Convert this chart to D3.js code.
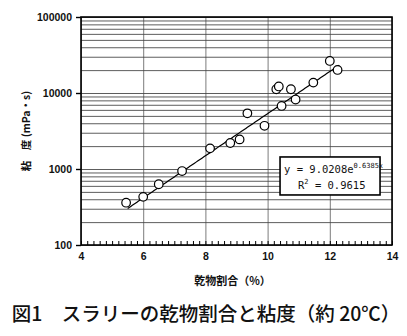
<!DOCTYPE html>
<html>
<head>
<meta charset="utf-8">
<script src="https://cdn.jsdelivr.net/npm/d3@7"></script>
<style>
  body { margin: 0; background: #fff; }
  svg { display: block; }
</style>
</head>
<body>
<div id="chart"></div>
<script>
// データ
const dryRatio = [5.45, 6.0, 6.5, 7.25, 8.15, 8.8, 9.1, 9.35, 9.9, 10.28, 10.36, 10.45, 10.75, 10.9, 11.47, 12.0, 12.25];
const viscosity = [360, 430, 630, 940, 1870, 2200, 2450, 5400, 3700, 11200, 12200, 6750, 11200, 8200, 13700, 26400, 20100];
const xTicks = [4, 6, 8, 10, 12, 14];
const yTicks = [100, 1000, 10000, 100000];
const fitRange = [5.5, 12.3];
const fitA = 9.0208, fitB = 0.6385;

const W = 407, H = 336;
const margin = { top: 17, right: 15, bottom: 91, left: 81 };
const w = W - margin.left - margin.right;
const h = H - margin.top - margin.bottom;

const root = d3.select("#chart").append("svg")
  .attr("width", W).attr("height", H);
const svg = root.append("g")
  .attr("transform", `translate(${margin.left},${margin.top})`);

const x = d3.scaleLinear().domain([4, 14]).range([0, w]);
const y = d3.scaleLog().domain([100, 100000]).range([h, 0]);

// 横の補助線（対数目盛）
const minorY = [];
yTicks.slice(0, -1).forEach(d => { for (let k = 2; k <= 9; k++) minorY.push(d * k); });
svg.append("g")
  .call(d3.axisLeft(y).tickValues(minorY.concat(yTicks)).tickSize(-w).tickFormat(""))
  .call(g => g.select(".domain").remove())
  .call(g => g.selectAll("line").attr("stroke", "#333").attr("stroke-width", 0.8));

// 縦の補助線
svg.append("g")
  .attr("transform", `translate(0,${h})`)
  .call(d3.axisBottom(x).tickValues(xTicks).tickSize(-h).tickFormat(""))
  .call(g => g.select(".domain").remove())
  .call(g => g.selectAll("line").attr("stroke", "#444").attr("stroke-width", 0.7));

// x 小目盛
svg.append("g")
  .attr("transform", `translate(0,${h})`)
  .call(d3.axisBottom(x).tickValues(d3.range(4, 14.01, 0.2)).tickSize(-4).tickFormat(""))
  .call(g => g.select(".domain").remove())
  .call(g => g.selectAll("line").attr("stroke", "#000").attr("stroke-width", 1));

// 枠
svg.append("rect")
  .attr("width", w).attr("height", h)
  .attr("fill", "none").attr("stroke", "#000").attr("stroke-width", 1.6);

// y 軸
svg.append("g")
  .call(d3.axisLeft(y).tickValues(yTicks).tickSize(5).tickPadding(4).tickFormat(d3.format("d")))
  .call(g => g.select(".domain").remove())
  .call(g => g.selectAll("line").attr("stroke", "#000").attr("stroke-width", 1.4))
  .call(g => g.selectAll("text")
    .attr("font-family", "Liberation Sans, Arial, sans-serif")
    .attr("font-weight", "bold").attr("font-size", 10.5).attr("fill", "#111"));

// x 軸
svg.append("g")
  .attr("transform", `translate(0,${h})`)
  .call(d3.axisBottom(x).tickValues(xTicks).tickSize(0).tickPadding(8))
  .call(g => g.select(".domain").remove())
  .call(g => g.selectAll("text")
    .attr("font-family", "Liberation Sans, Arial, sans-serif")
    .attr("font-weight", "bold").attr("font-size", 10.5).attr("fill", "#111"));

// 近似曲線
const fitX = d3.range(fitRange[0], fitRange[1] + 0.001, 0.05);
svg.append("path")
  .datum(fitX)
  .attr("fill", "none").attr("stroke", "#000").attr("stroke-width", 1.2)
  .attr("d", d3.line().x(d => x(d)).y(d => y(fitA * Math.exp(fitB * d))));

// データ点
svg.selectAll("circle.pt")
  .data(dryRatio)
  .join("circle")
  .attr("class", "pt")
  .attr("cx", d => x(d))
  .attr("cy", (d, i) => y(viscosity[i]))
  .attr("r", 4.3)
  .attr("fill", "#fff").attr("stroke", "#000").attr("stroke-width", 1.2);

// 数式ボックス
const bx = x(10.4), by = y(1440);
const box = svg.append("g").attr("transform", `translate(${bx},${by})`);
box.append("rect")
  .attr("width", 100).attr("height", 38)
  .attr("fill", "#fff").attr("stroke", "#000").attr("stroke-width", 1.6);
const eq = box.append("text")
  .attr("x", 4).attr("y", 16)
  .attr("font-family", "DejaVu Sans Mono, monospace")
  .attr("font-size", 10.5).attr("fill", "#111");
eq.append("tspan").text("y = 9.0208e");
eq.append("tspan").attr("dy", -5).attr("font-size", 7).text("0.6385x");
const r2 = box.append("text")
  .attr("x", 18).attr("y", 32)
  .attr("font-family", "DejaVu Sans Mono, monospace")
  .attr("font-size", 10.5).attr("fill", "#111");
r2.append("tspan").text("R");
r2.append("tspan").attr("dy", -5).attr("font-size", 7).text("2");
r2.append("tspan").attr("dy", 5).text(" = 0.9615");

// 軸タイトル
svg.append("text")
  .attr("x", w / 2 - 4).attr("y", h + 40)
  .attr("text-anchor", "middle")
  .attr("font-family", "Noto Sans CJK JP, sans-serif")
  .attr("font-weight", "bold").attr("font-size", 11).attr("fill", "#111")
  .text("乾物割合（%）");

root.append("text")
  .attr("transform", `translate(30,131) rotate(-90)`)
  .attr("text-anchor", "middle")
  .attr("font-family", "Noto Sans CJK JP, sans-serif")
  .attr("font-weight", "bold").attr("font-size", 10.5).attr("fill", "#111")
  .text("粘　度 (mPa・s)");

// 図タイトル
root.append("text")
  .attr("x", 206).attr("y", 321)
  .attr("text-anchor", "middle")
  .attr("font-family", "Noto Sans CJK JP, sans-serif")
  .attr("font-weight", 500).attr("font-size", 19.5).attr("fill", "#111")
  .text("図1　スラリーの乾物割合と粘度（約 20℃）");
</script>
</body>
</html>
